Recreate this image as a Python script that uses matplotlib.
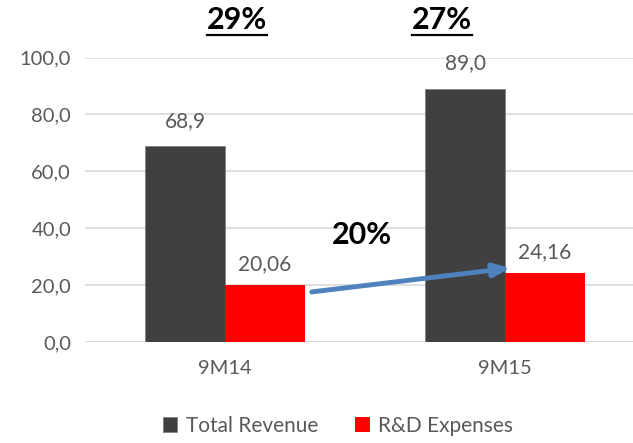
import matplotlib.pyplot as plt
from matplotlib.lines import Line2D
import numpy as np

plt.rcParams['font.family'] = ['Lato', 'DejaVu Sans']

categories = ['9M14', '9M15']
total_revenue = [68.9, 89.0]
rd_expenses = [20.06, 24.16]
revenue_labels = ['68,9', '89,0']
rd_labels = ['20,06', '24,16']
share_labels = ['29%', '27%']
growth_label = '20%'

grey_text = '#595959'
dark = '#404040'
red = '#FF0000'

fig = plt.figure(figsize=(6.33, 4.43), dpi=100)
ax = fig.add_axes([85 / 633, 101 / 443, 560 / 633, 284.5 / 443])

x = np.arange(len(categories))
w = 80 / 280
b1 = ax.bar(x - w / 2, total_revenue, w, color=dark, edgecolor='#7f7f7f', linewidth=0.6,
            label='Total Revenue', zorder=3)
b2 = ax.bar(x + w / 2, rd_expenses, w, color=red, label='R&D Expenses', zorder=3)

for rect, lab in zip(b1, revenue_labels):
    ax.annotate(lab, (rect.get_x() + rect.get_width() / 2, rect.get_height()),
                xytext=(0, 11), textcoords='offset points', ha='center', va='bottom',
                fontsize=15, color=grey_text)
for rect, lab in zip(b2, rd_labels):
    ax.annotate(lab, (rect.get_x() + rect.get_width() / 2, rect.get_height()),
                xytext=(0, 8), textcoords='offset points', ha='center', va='bottom',
                fontsize=15, color=grey_text)

ax.set_xlim(-0.5, 1.5)
ax.set_ylim(0, 100)
ax.set_yticks(np.arange(0, 101, 20))
ax.set_yticklabels([f'{v:.1f}'.replace('.', ',') for v in np.arange(0, 101, 20)])
ax.set_xticks(x)
ax.set_xticklabels(categories)
ax.tick_params(length=0, labelsize=14.5, colors=grey_text)
ax.tick_params(axis='x', pad=13)
ax.tick_params(axis='y', pad=10)
ax.yaxis.grid(True, color='#D9D9D9', linewidth=1.2, zorder=0)
for s in ax.spines.values():
    s.set_visible(False)
ax.axhline(0, color='#D9D9D9', linewidth=1.2, zorder=1)

# growth arrow between R&D bars
ax.annotate('', xy=(1.02, 26.0), xytext=(0.31, 17.6),
            arrowprops=dict(arrowstyle='-|>,head_length=1.0,head_width=0.4',
                            color='#4F81BD', lw=3.5, shrinkA=0, shrinkB=0), zorder=5)
ax.text(0.49, 37.5, growth_label, fontsize=22, fontweight='bold', ha='center',
        va='center', color='black')

# R&D share of revenue, underlined
share_x = [237 / 633, 442 / 633]
fig.canvas.draw()
renderer = fig.canvas.get_renderer()
for sx, lab in zip(share_x, share_labels):
    t = fig.text(sx, 1 - 20 / 443, lab, fontsize=22, fontweight='bold', ha='center',
                 va='center', color='black')
    bb = t.get_window_extent(renderer).transformed(fig.transFigure.inverted())
    fig.add_artist(Line2D([bb.x0, bb.x1], [bb.y0 - 0.003, bb.y0 - 0.003],
                          transform=fig.transFigure, color='black', lw=1.6))

leg = fig.legend(loc='center', bbox_to_anchor=(338 / 633, 1 - 426 / 443), ncol=2,
                 frameon=False, fontsize=15, handlelength=0.7, handleheight=0.7,
                 columnspacing=1.8, handletextpad=0.4)
for t in leg.get_texts():
    t.set_color(grey_text)

fig.savefig('out.png', dpi=100)
